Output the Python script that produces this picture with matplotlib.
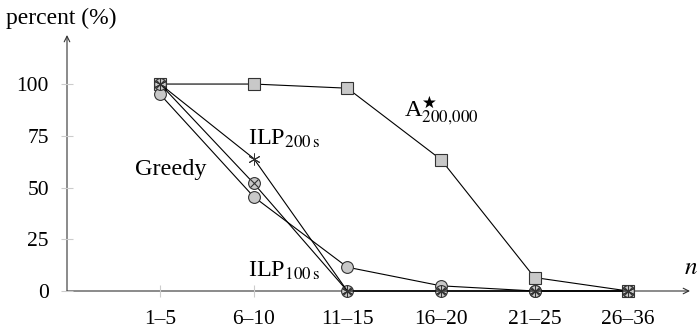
import matplotlib
matplotlib.use("Agg")
import matplotlib.pyplot as plt

categories = ["1\u20135", "6\u201310", "11\u201315", "16\u201320", "21\u201325", "26\u201336"]
astar = [100, 100, 98, 63.5, 6.5, 0]
ilp200 = [100, 64, 0, 0, 0, 0]
ilp100 = [100, 52, 0, 0, 0, 0]
greedy = [95, 45.5, 11.5, 2.5, 0, 0]
yticks = [0, 25, 50, 75, 100]

plt.rcParams['font.family'] = ['Liberation Serif', 'DejaVu Serif']
plt.rcParams['mathtext.fontset'] = 'stix'

fig = plt.figure(figsize=(6.97, 3.31), dpi=100)
ax = fig.add_axes([67/697, 40/331, (690-67)/697, (291-35)/331])
x = list(range(len(categories)))
ax.set_xlim(-0.995, 5.66)
ax.set_ylim(0, 123.7)

fill = '#c8c8c8'
edge = '#333333'
lw = 0.8
ms = 8.5

ax.plot(x, greedy, color='black', lw=lw, marker='o', ms=ms, mfc=fill, mec=edge, mew=0.8, clip_on=False, zorder=3)
ax.plot(x, ilp100, color='black', lw=lw, marker='o', ms=ms, mfc=fill, mec=edge, mew=0.8, clip_on=False, zorder=4)
ax.plot(x, ilp100, lw=0, marker='x', ms=ms*0.7, mec=edge, mew=0.8, clip_on=False, zorder=5)
ax.plot(x, ilp200, color='black', lw=lw, marker=(6, 2, 0), ms=ms, mec=edge, mew=0.7, clip_on=False, zorder=6)
ax.plot(x, astar, color='black', lw=lw, marker='s', ms=ms, mfc=fill, mec=edge, mew=0.8, clip_on=False, zorder=2)

for s in ax.spines.values():
    s.set_visible(False)

ax.annotate('', xy=(1.0, 0), xytext=(0, 0), xycoords='axes fraction',
            arrowprops=dict(arrowstyle='->', lw=0.8, color='#333333', shrinkA=0, shrinkB=0), zorder=1)
ax.annotate('', xy=(0, 1.0), xytext=(0, 0), xycoords='axes fraction',
            arrowprops=dict(arrowstyle='->', lw=0.8, color='#333333', shrinkA=0, shrinkB=0), zorder=1)

ax.set_xticks(x)
ax.set_xticklabels(categories, fontsize=15.5)
ax.set_yticks(yticks)
ax.set_yticklabels([str(v) for v in yticks], fontsize=15.5)
ax.tick_params(axis='both', direction='inout', length=8, width=0.8, color='#cccccc')
ax.tick_params(axis='x', pad=10)
ax.tick_params(axis='y', pad=9)

fig.text(6/697, 1 - 18/331, 'percent (%)', fontsize=17, ha='left', va='center')
fig.text(684/697, 1 - 268/331, r'$n$', fontsize=18, ha='left', va='center')

ax.text(-0.27, 58.5, 'Greedy', fontsize=17.5, ha='left', va='center')
ax.text(0.94, 73.5, r'ILP$_{\mathrm{200\,s}}$', fontsize=17.5, ha='left', va='center')
ax.text(0.94, 9.5, r'ILP$_{\mathrm{100\,s}}$', fontsize=17.5, ha='left', va='center')
ax.text(2.61, 87, r'A$^{\bigstar}_{200{,}000}$', fontsize=17.5, ha='left', va='center')

fig.savefig('out.png', dpi=100)
